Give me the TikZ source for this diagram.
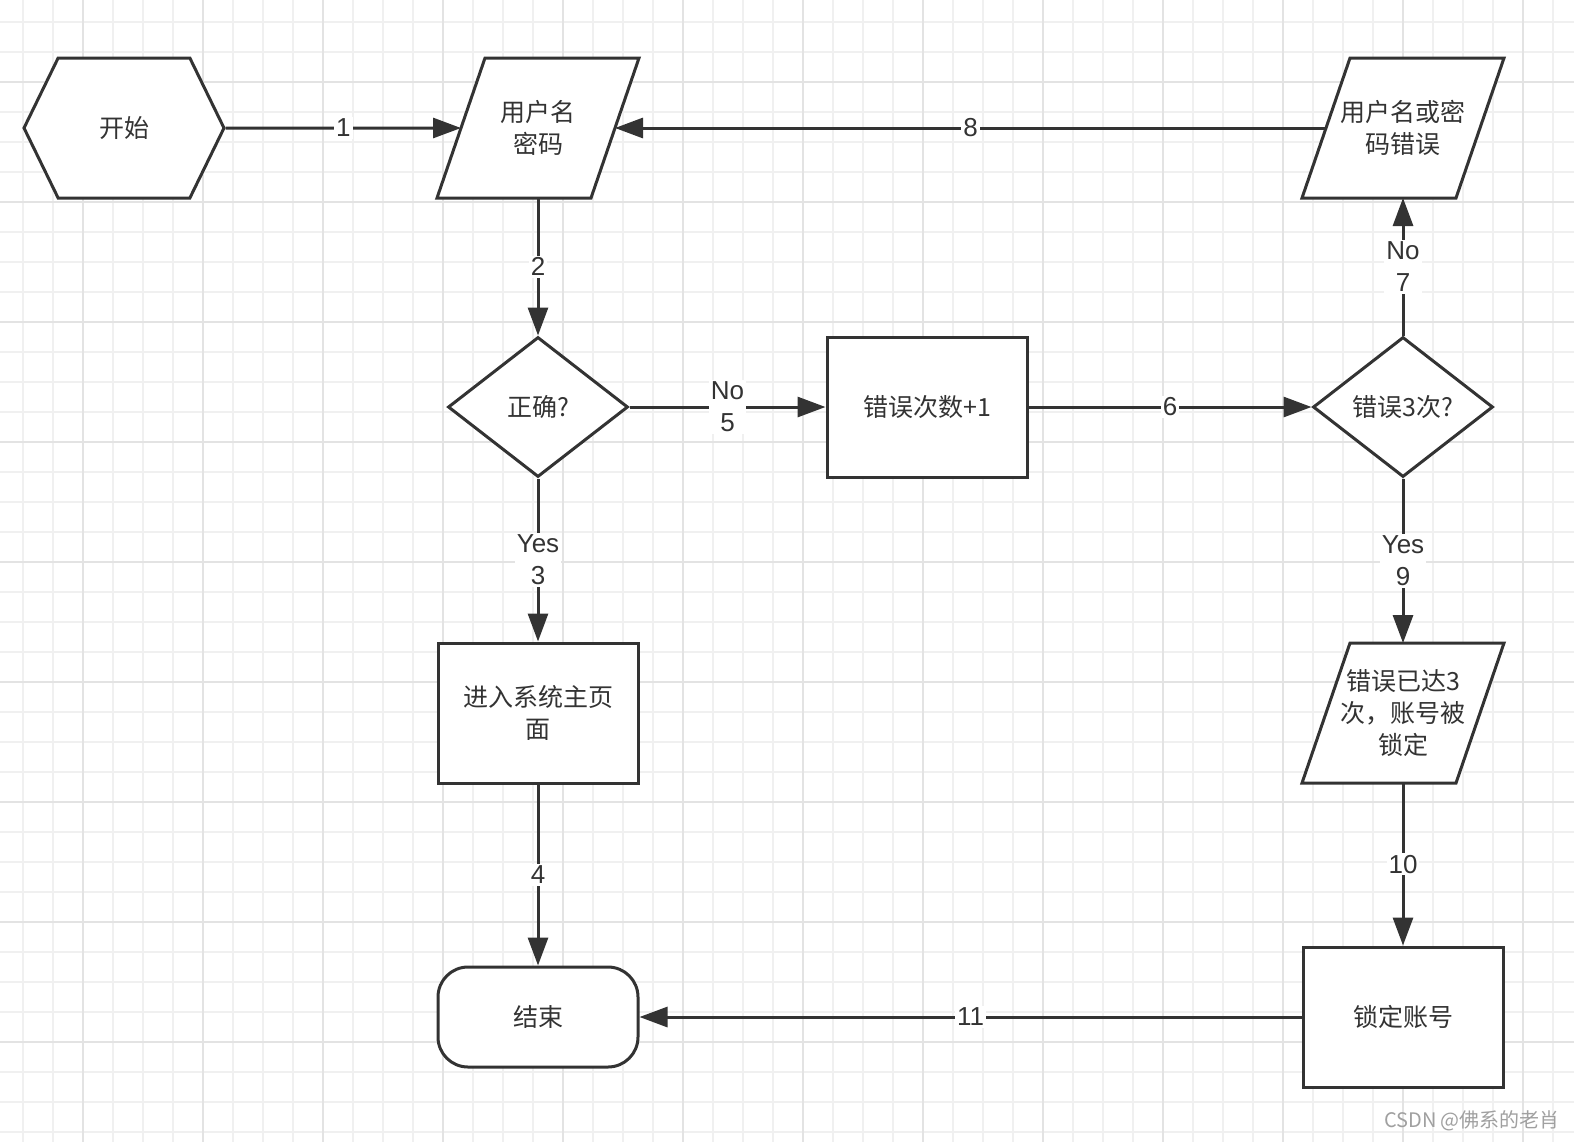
\documentclass[tikz,border=0pt]{standalone}
\usepackage{fontspec}
\setmainfont{Liberation Sans}
\newfontfamily\cjk{Noto Sans CJK SC}
\usepackage{xcolor}
\usepackage{tikz}
\usetikzlibrary{arrows.meta, shapes.geometric, shapes.symbols}
\pgfdeclarelayer{back}
\pgfdeclarelayer{bg}
\pgfsetlayers{back,bg,main}
\definecolor{ink}{HTML}{333333}
\definecolor{gridminor}{HTML}{F0F0F0}
\definecolor{gridmajor}{HTML}{E3E3E3}
\definecolor{wmgray}{HTML}{A0A0A0}
\newcommand{\flowfont}{\cjk\fontsize{12.5pt}{16pt}\selectfont}
\newcommand{\labelfont}{\fontsize{13pt}{16pt}\selectfont}

\begin{document}
\begin{tikzpicture}[x=0.5pt, y=-0.5pt,
    >={Triangle[length=14pt, width=10pt]},
    flownode/.style={draw=ink, fill=white, line width= 1.5pt, text=ink, font=\flowfont, align=center, inner sep=2pt},
    hexbox/.style={flownode, signal, signal to=west and east, signal pointer angle=128, minimum width=100pt, minimum height=70pt},
    iobox/.style={flownode, rectangle, draw=none, fill=none, outer sep=0pt, minimum width=77pt, minimum height=70pt},
    ioshape/.style={draw=ink, fill=white, line width= 1.5pt},
    choice/.style={flownode, diamond, inner sep=0pt, minimum width=90pt, minimum height=70pt},
    stepbox/.style={flownode, rectangle, minimum width=100pt, minimum height=70pt},
    endbox/.style={flownode, rectangle, rounded corners=15pt, minimum width=100pt, minimum height=50pt},
    edgelabel/.style={fill=white, text=ink, font=\labelfont, align=center, inner sep=1pt},
    flow/.style={->, line width= 1.5pt, color=ink},
    minorline/.style={line width= 1pt, gridminor},
    majorline/.style={line width= 1pt, gridmajor}]
      % grid %
      \useasboundingbox (0,0) rectangle (1574,1142);
      \begin{pgfonlayer}{back}
        \fill[white] (0,0) rectangle (1574,1142);
        \foreach \gx in {23,53,...,1553} \draw[minorline] (\gx,0) -- (\gx,1142);
        \foreach \gy in {22,52,...,1132} \draw[minorline] (0,\gy) -- (1574,\gy);
        \foreach \gx in {83,203,...,1523} \draw[majorline] (\gx,0) -- (\gx,1142);
        \foreach \gy in {82,202,...,1042} \draw[majorline] (0,\gy) -- (1574,\gy);
      \end{pgfonlayer}
      % nodes %
      \node[hexbox] (start) at (124,128) {开始};
      \node[iobox] (login) at (538,128) {用户名\\密码};
      \node[choice] (ok) at (538,407) {正确?};
      \node[stepbox] (count) at (927,407) {错误次数+1};
      \node[choice] (three) at (1403,407) {错误3次?};
      \node[iobox] (wrong) at (1403,128) {用户名或密\\码错误};
      \node[stepbox] (home) at (538,713) {进入系统主页\\面};
      \node[endbox] (stop) at (538,1017) {结束};
      \node[iobox] (locked) at (1403,713) {错误已达3\\次，账号被\\锁定};
      \node[stepbox] (lock) at (1403,1017) {锁定账号};
      \node[font=\cjk\fontsize{10pt}{12pt}\selectfont, text=wmgray] (credit) at (1472,1121) {CSDN @佛系的老肖};
      % slanted boxes %
      \begin{pgfonlayer}{bg}
        \foreach \p in {login, wrong, locked}
          \filldraw[ioshape] ([xshift=-12pt]\p.south west) -- ([xshift=-12pt]\p.south east)
            -- ([xshift=12pt]\p.north east) -- ([xshift=12pt]\p.north west) -- cycle;
      \end{pgfonlayer}
      % edges %
      \draw[flow] (start) -- node[edgelabel] {1} (login);
      \draw[flow] (login) -- node[edgelabel] {2} (ok);
      \draw[flow] (ok) -- node[edgelabel] {Yes\\3} (home);
      \draw[flow] (home) -- node[edgelabel] {4} (stop);
      \draw[flow] (ok) -- node[edgelabel] {No\\5} (count);
      \draw[flow] (count) -- node[edgelabel] {6} (three);
      \draw[flow] (three) -- node[edgelabel] {No\\7} (wrong);
      \draw[flow] (wrong) -- node[edgelabel] {8} (login);
      \draw[flow] (three) -- node[edgelabel] {Yes\\9} (locked);
      \draw[flow] (locked) -- node[edgelabel] {10} (lock);
      \draw[flow] (lock) -- node[edgelabel] {11} (stop);
\end{tikzpicture}
\end{document}
